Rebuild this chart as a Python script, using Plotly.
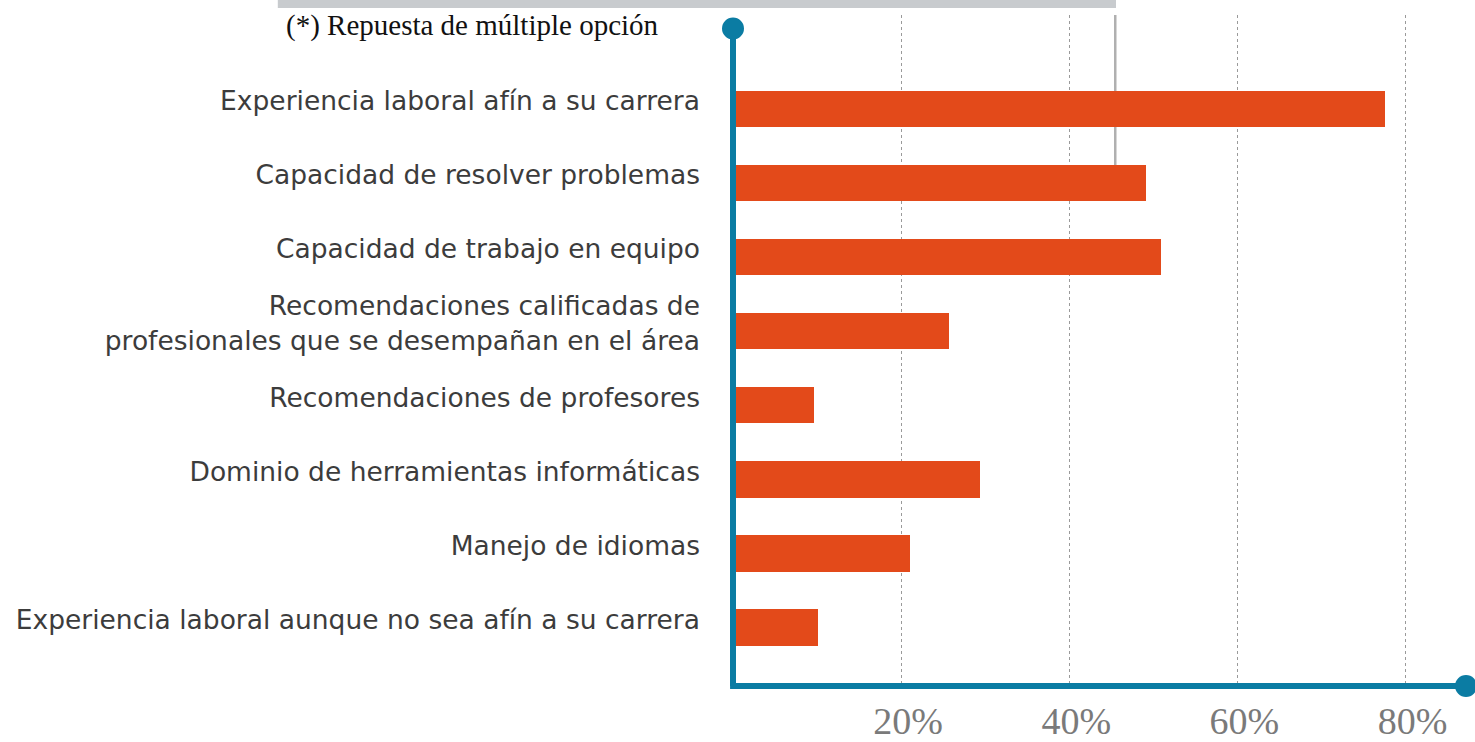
import plotly.graph_objects as go

categories = [
    "Experiencia laboral afín a su carrera",
    "Capacidad de resolver problemas",
    "Capacidad de trabajo en equipo",
    "Recomendaciones calificadas de<br>profesionales que se desempañan en el área",
    "Recomendaciones de profesores",
    "Dominio de herramientas informáticas",
    "Manejo de idiomas",
    "Experiencia laboral aunque no sea afín a su carrera",
]
values = [77.6, 49.1, 50.9, 25.7, 9.6, 29.4, 21.0, 10.1]
tick_vals = [20, 40, 60, 80]
tick_text = ["20%", "40%", "60%", "80%"]
note = "(*) Repuesta de múltiple opción"

AXIS_COLOR = "#0B7CA3"
BAR_COLOR = "#E34A1A"
X_MAX = 87.2
Y_TOP = -1.27
Y_BOTTOM = 7.79
Y_AXIS_TOP_PAPER = 0.980

fig = go.Figure()
fig.add_trace(go.Bar(
    x=values, y=categories, orientation="h",
    marker=dict(color=BAR_COLOR, line=dict(width=0)),
    width=0.49, hoverinfo="x+y",
))

R = 11
shapes = [
    # gray bar at top
    dict(type="rect", xref="paper", yref="paper", x0=-0.621, x1=0.5225, y0=1.0105, y1=1.03,
         fillcolor="#C8CBCE", line=dict(width=0), layer="below"),
    # gray vertical line behind bars
    dict(type="line", xref="paper", yref="y", x0=0.5215, x1=0.5215, y0=1, y1=Y_TOP - 0.3,
         line=dict(color="#B0B0B0", width=2.5), layer="below"),
    # vertical axis
    dict(type="line", xref="paper", yref="paper", x0=0, x1=0, y0=Y_AXIS_TOP_PAPER, y1=0,
         line=dict(color=AXIS_COLOR, width=6)),
    # horizontal axis
    dict(type="line", xref="paper", yref="paper", x0=-0.004, x1=1, y0=0, y1=0,
         line=dict(color=AXIS_COLOR, width=6)),
    # axis end dots
    dict(type="circle", xref="paper", yref="paper", xsizemode="pixel", ysizemode="pixel",
         xanchor=0, yanchor=Y_AXIS_TOP_PAPER, x0=-R, x1=R, y0=-R, y1=R,
         fillcolor=AXIS_COLOR, line=dict(width=0)),
    dict(type="circle", xref="paper", yref="paper", xsizemode="pixel", ysizemode="pixel",
         xanchor=1, yanchor=0, x0=-R, x1=R, y0=-R, y1=R,
         fillcolor=AXIS_COLOR, line=dict(width=0)),
]

fig.update_layout(
    width=1475, height=742,
    margin=dict(l=733, r=9, t=15, b=56),
    paper_bgcolor="white", plot_bgcolor="white",
    showlegend=False, bargap=0,
    shapes=shapes,
    annotations=[dict(
        text=note, xref="paper", yref="paper", x=-0.612, y=1.0,
        xanchor="left", yanchor="middle", yshift=-10, showarrow=False,
        font=dict(family="Liberation Serif", size=29, color="#111111"),
    )],
    xaxis=dict(
        range=[0, X_MAX], tickvals=tick_vals, ticktext=tick_text,
        showgrid=True, gridcolor="#9A9A9A", griddash="dot", gridwidth=1,
        zeroline=False, showline=False, ticks="", automargin=False,
        ticklabelstandoff=9, ticklabelshift=7,
        tickfont=dict(family="Liberation Serif", size=38, color="#7A7A7A"),
    ),
    yaxis=dict(
        type="category", categoryorder="array", categoryarray=categories,
        range=[Y_BOTTOM, Y_TOP], showgrid=False, zeroline=False, automargin=False,
        showline=False, ticks="", ticklabelstandoff=32, ticklabelshift=8,
        tickfont=dict(family="DejaVu Sans", size=26.5, color="#3C3C3C"),
    ),
)

fig.write_html("out.html", config={"displayModeBar": False},
               post_script="document.body.style.margin='0';")
